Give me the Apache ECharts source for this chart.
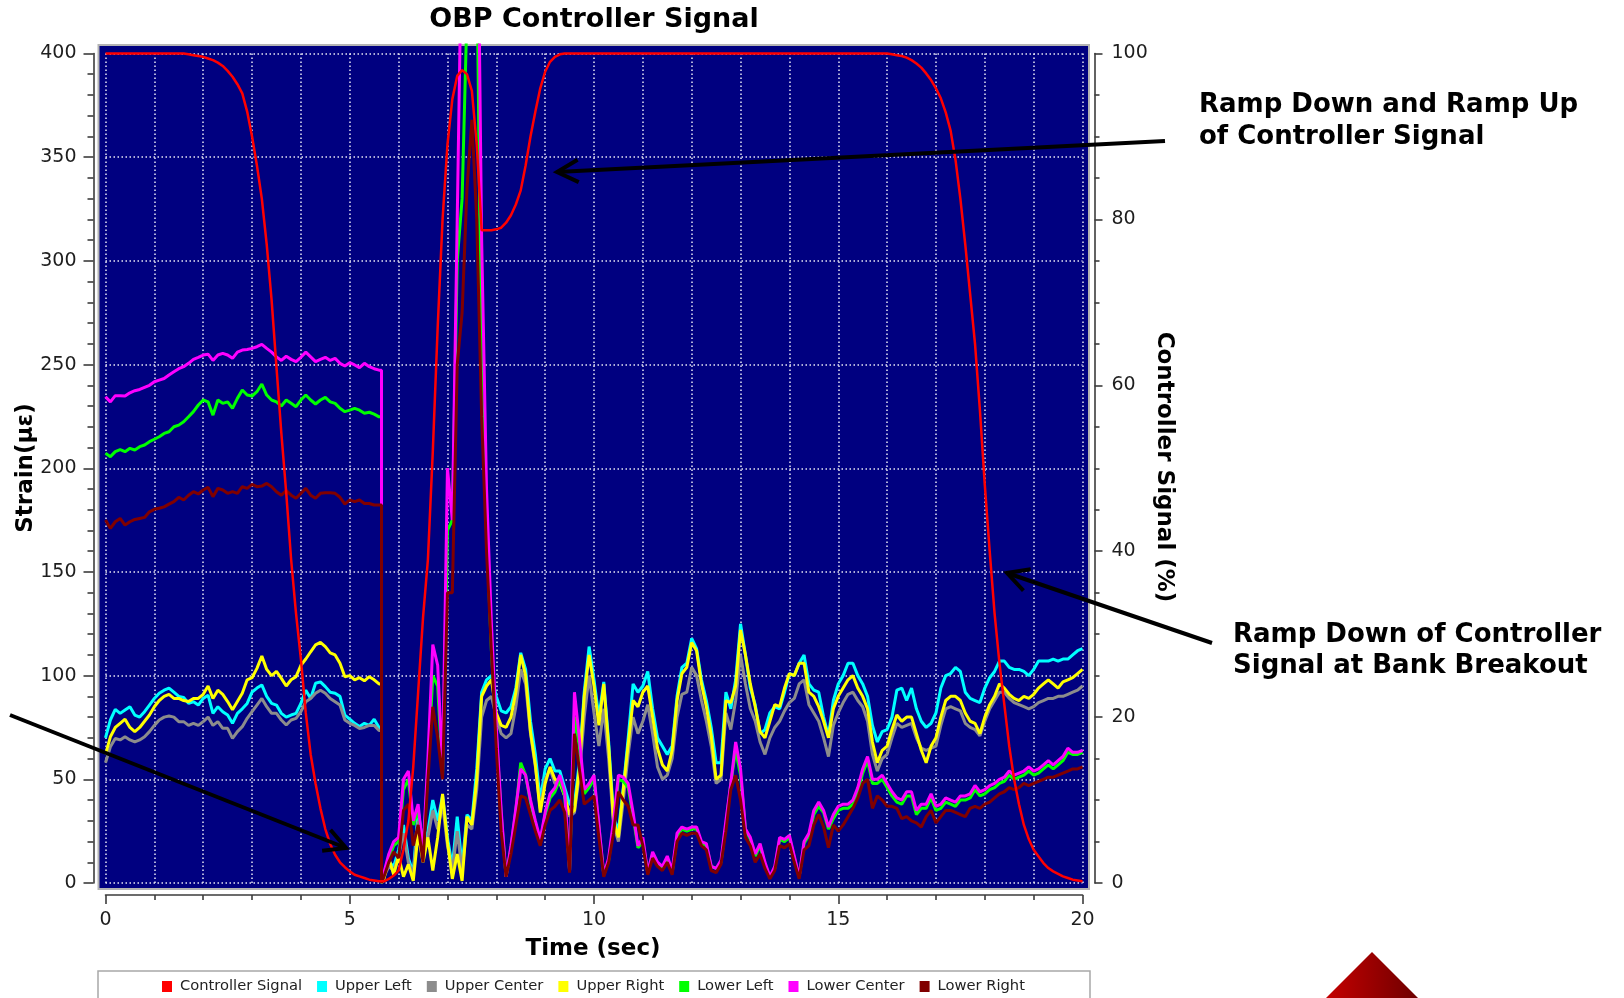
<!DOCTYPE html>
<html>
<head>
<meta charset="utf-8">
<title>OBP Controller Signal</title>
<script src="https://cdn.jsdelivr.net/npm/echarts@6/dist/echarts.min.js"></script>
<style>
  html, body { margin: 0; padding: 0; background: #ffffff; }
  #chart { width: 1624px; height: 998px; }
</style>
</head>
<body>
<div id="chart"></div>
<script>
// ---------------------------------------------------------------------------
// Recorded channels, sampled every 0.1 s. At CUT_TIME every strain channel
// drops to zero, so that instant appears twice (value before / after).
// ---------------------------------------------------------------------------
const CUT_TIME = 5.65;
const TIME = [];
for (let k = 0; k <= 56; k++) TIME.push(+(k / 10).toFixed(1));
TIME.push(CUT_TIME, CUT_TIME);
for (let k = 57; k <= 200; k++) TIME.push(+(k / 10).toFixed(1));

const X_TICKS = [0, 5, 10, 15, 20];
const STRAIN_TICKS = [0, 50, 100, 150, 200, 250, 300, 350, 400];
const SIGNAL_TICKS = [0, 20, 40, 60, 80, 100];

// Controller signal, %
const CONTROLLER_SIGNAL = [
  100, 100, 100, 100, 100, 100, 100, 100, 100, 100,
  100, 100, 100, 100, 100, 100, 100, 99.9, 99.8, 99.7,
  99.6, 99.4, 99.2, 98.9, 98.5, 97.9, 97.2, 96.3, 95.2, 93,
  90, 86.5, 82.5, 77, 70.3, 62.2, 54.2, 47, 39, 32.5,
  27, 20.5, 15.5, 12, 9, 6.5, 4.7, 3.4, 2.5, 1.9,
  1.4, 1.0, 0.8, 0.6, 0.4, 0.3, 0.2,
  0.2, 0.2,
  0.2, 0.5, 0.9,
  1.5, 4, 7.5, 14, 23, 32, 39, 52, 67, 80,
  89, 94.5, 97.3, 98, 97.5, 95.5, 89, 78.7, 78.7, 78.7,
  78.8, 79, 79.6, 80.5, 81.8, 83.5, 86.5, 90, 93, 95.8,
  97.8, 99, 99.6, 99.9, 100, 100, 100, 100, 100, 100,
  100, 100, 100, 100, 100, 100, 100, 100, 100, 100,
  100, 100, 100, 100, 100, 100, 100, 100, 100, 100,
  100, 100, 100, 100, 100, 100, 100, 100, 100, 100,
  100, 100, 100, 100, 100, 100, 100, 100, 100, 100,
  100, 100, 100, 100, 100, 100, 100, 100, 100, 100,
  100, 100, 100, 100, 100, 100, 100, 100, 100, 100,
  100, 99.9, 99.8, 99.7, 99.5, 99.2, 98.8, 98.3, 97.6, 96.8,
  95.8, 94.6, 92.9, 90.7, 87.2, 82.5, 77, 71, 65, 57,
  48, 40, 32.5, 26.5, 21.5, 16.5, 12.5, 9.5, 7, 5.3,
  4, 3.2, 2.4, 1.8, 1.4, 1.1, 0.8, 0.6, 0.4, 0.3,
  0.2
];

// Strain channels, microstrain
const UPPER_LEFT = [
  70, 78.6, 83.7, 81.8, 83.4, 85, 81, 80, 82.6, 85.8,
  89, 91.5, 93, 94, 92, 90, 89.5, 86.6, 87.4, 85.8,
  89, 90.6, 81.8, 85, 82.6, 81, 77, 81.8, 84, 86.6,
  92, 94, 95.5, 90, 86.6, 85.8, 81.8, 80, 81, 81.8,
  86.6, 93, 89, 96.3, 97, 94.7, 92, 91.5, 90, 81,
  79, 77, 75.5, 77, 76, 79, 75,
  75, 0,
  4, 10, 8,
  16, 28, 12, 5, 35, 18, 25, 40, 30, 42,
  22, 8, 32, 8, 33, 30, 55, 92, 98, 100,
  90, 83, 82, 85, 94, 111, 103, 78, 62, 40,
  55, 60, 54, 54, 46, 38, 38, 58, 92, 114,
  98, 80, 97, 68, 32, 25, 46, 70, 96, 92,
  95, 102, 84, 70, 66, 62, 66, 90, 104, 106,
  118, 113, 98, 88, 75, 58, 58, 92, 84, 98,
  125, 110, 94, 86, 72, 74, 82, 85, 84, 92,
  101, 100, 106, 110, 96, 93, 92, 80, 71, 88,
  96, 100, 106, 106, 100, 96, 90, 76, 68, 73,
  74, 80, 93, 94, 88, 94, 84, 78, 75, 77,
  82, 94, 100, 101, 104, 102, 92, 89, 88, 87,
  94, 99, 102, 107, 107, 104, 103, 103, 102, 100,
  103, 107, 107, 107, 108, 107, 108, 108, 110, 112,
  113
];

const UPPER_CENTER = [
  58, 65.7, 69.7, 69, 70.5, 69, 68, 69, 70.5, 73,
  76, 78.6, 80, 80.5, 80, 77.8, 77.8, 76, 77, 76,
  77.8, 80, 76, 77.8, 74.6, 74.6, 69.7, 73, 75.4, 79.4,
  82.6, 85.8, 89, 85, 81.8, 81.8, 78.6, 76.2, 78.6, 79.4,
  82.6, 87.4, 89, 91.5, 93, 91.5, 89, 87.4, 85.8, 78.6,
  77, 76, 74.5, 75, 76, 76, 73.5,
  73.5, 0,
  3, 8, 6,
  13, 24, 10, 4, 30, 15, 22, 35, 26, 38,
  18, 6, 25, 6, 28, 26, 45, 80, 88, 90,
  80, 72, 70, 72, 85, 103, 96, 72, 56, 36,
  50, 55, 48, 48, 42, 32, 34, 52, 80, 100,
  82, 66, 84, 60, 28, 20, 40, 62, 80, 72,
  78, 86, 72, 56, 50, 52, 60, 80, 91, 92,
  104, 100, 88, 78, 66, 48, 50, 82, 74, 88,
  110, 96, 84, 78, 68, 62, 70, 75, 78, 83,
  87, 89, 96, 98, 86, 82, 78, 70, 61, 76,
  82, 87, 91, 92, 88, 85, 78, 62, 54, 60,
  62, 70, 77, 75, 76, 77, 70, 65, 64, 65,
  66, 76, 84, 85, 84, 83, 77, 75, 74, 71,
  78, 84, 88, 92, 92, 89, 87, 86, 85, 84,
  85, 87, 88, 89, 89, 90, 90, 91, 92, 93,
  95
];

const UPPER_RIGHT = [
  62, 70.5, 75, 77, 79, 75, 73, 75, 78, 81,
  85, 88, 90, 91, 89, 89, 88, 87.5, 89, 89,
  91, 95, 89, 93, 91, 87.5, 83.5, 87.5, 91.5, 98,
  99, 103.5, 109.5, 103, 100, 102, 98.7, 95, 98, 99.5,
  105, 108, 111.5, 114.8, 116, 114, 111, 110, 106, 99.5,
  100, 98, 99, 97.5, 99.5, 98, 96,
  96, 0,
  2, 12, 4,
  13, 3, 9, 1, 24, 10, 22, 6, 22, 43,
  20, 2, 14, 1, 32, 28, 50, 90, 95, 98,
  82, 76, 75, 80, 92, 110, 100, 73, 57, 34,
  48, 56, 50, 49, 42, 33, 35, 55, 90, 110,
  95, 76, 96, 66, 30, 22, 45, 67, 88, 85,
  92, 95, 80, 65, 57, 54, 64, 88, 101, 104,
  116, 112, 96, 85, 71, 50, 52, 88, 87, 95,
  122, 110, 96, 85, 73, 70, 78, 86, 85, 94,
  101, 100, 106, 106, 92, 90, 85, 78, 70, 84,
  90, 94, 98, 100, 94, 90, 84, 68, 58, 64,
  66, 74, 81, 78, 80, 80, 72, 64, 58, 66,
  70, 80, 88, 90, 90, 88, 82, 78, 77, 72,
  80, 86, 90, 96, 94, 91, 89, 88, 90, 89,
  91, 94, 96, 98, 96, 94, 97, 98, 99, 101,
  103
];

const LOWER_LEFT = [
  207.2, 205.6, 208, 209, 208, 209.6, 208.8, 210.4, 211.2, 212.8,
  214, 215.2, 216.8, 217.6, 220, 220.8, 222.4, 224.8, 227.3, 230.5,
  232.9, 232, 225.6, 232.9, 231.3, 232, 228.9, 233.7, 237.7, 235.3,
  234.8, 236.9, 240.6, 235.3, 232.9, 232, 230, 232.9, 231.3, 229.7,
  232.9, 235.3, 232.9, 231, 232.9, 234.2, 232, 231.3, 228.9, 227.3,
  228, 228.9, 228, 226.5, 227, 226.1, 224.8,
  224.8, 0,
  4, 12, 18,
  20, 45, 50, 28, 35, 13, 55, 100, 95, 52,
  170, 175, 300, 330, 420, 520, 450, 240, 170, 112,
  72, 33, 3, 17, 35, 58, 52, 39, 29, 20,
  33, 41, 44, 50, 42, 6, 80, 66, 43, 46,
  50, 27, 4, 11, 28, 50, 49, 46, 32, 17,
  20, 5, 14, 9, 7, 12, 5, 22, 26, 25,
  26, 26, 19, 18, 8, 7, 10, 28, 48, 64,
  52, 26, 21, 13, 18, 9, 3, 7, 21, 20,
  22, 12, 3, 19, 23, 33, 37, 34, 26, 31,
  35, 36, 36, 38, 44, 53, 59, 48, 48, 50,
  46, 42, 39, 38, 42, 42, 33, 36, 36, 41,
  35, 36, 39, 38, 37, 40, 40, 41, 45, 42,
  43, 45, 46, 48, 49, 52, 50, 51, 52, 54,
  52, 53, 55, 57, 55, 57, 59, 63, 62, 62,
  63
];

const LOWER_CENTER = [
  234.5, 232, 235, 235, 234.8, 236.4, 237.4, 238, 239, 240,
  241.7, 242.5, 243.3, 245, 246.5, 248, 249, 250.6, 252.5, 253.5,
  254.6, 255, 252, 254.6, 255.4, 254.6, 253, 256, 257, 257.3,
  257.8, 258.6, 259.7, 257.8, 256, 253.7, 252, 254, 252.5, 251.4,
  253.5, 256, 253.7, 251.4, 252.5, 253.5, 252, 253, 250.6, 249.3,
  250.9, 249.8, 248.5, 250.6, 249, 248, 247.3,
  247.3, 0,
  5, 14, 20,
  22, 50, 54, 30, 38, 15, 60, 115, 105, 55,
  200, 175, 320, 470, 560, 560, 520, 310, 190, 125,
  75, 35, 3, 18, 36, 55, 52, 40, 30, 21,
  34, 43, 46, 52, 44, 6, 92, 70, 45, 48,
  52, 28, 4, 12, 30, 52, 51, 48, 34, 18,
  22, 5, 15, 10, 8, 13, 6, 24, 27, 26,
  27, 27, 20, 19, 8, 7, 11, 30, 48, 68,
  55, 26, 22, 14, 19, 10, 3, 8, 22, 21,
  23, 13, 3, 20, 24, 35, 39, 35, 27, 33,
  37, 38, 38, 40, 46, 55, 61, 50, 50, 52,
  48, 44, 41, 40, 44, 44, 35, 38, 38, 43,
  37, 38, 41, 40, 39, 42, 42, 43, 47, 44,
  45, 47, 48, 50, 51, 54, 52, 53, 54, 56,
  54, 55, 57, 59, 57, 59, 61, 65, 63, 63,
  64
];

const LOWER_RIGHT = [
  175, 171, 174.2, 175.8, 172.6, 174.2, 175.3, 175.8, 176.3, 179,
  180.2, 180.7, 181.4, 182.7, 183.9, 186, 184.7, 187, 188.7, 187.6,
  189.5, 190.8, 186.3, 190.3, 189.5, 187.9, 188.7, 187.9, 191.1, 190.3,
  192.2, 191.1, 191.4, 192.7, 191.1, 188.7, 187, 189.2, 187, 185.5,
  187.9, 190.3, 187, 185.5, 187.9, 188.2, 188.2, 187.9, 186, 182.7,
  184.7, 183.9, 184.7, 183, 183, 182.3, 182.3,
  182.3, 0,
  3, 10, 15,
  12, 35, 38, 18, 28, 10, 50, 85, 70, 50,
  140, 140, 250, 275, 335, 368, 320, 225, 160, 112,
  65, 25, 3, 14, 28, 42, 41, 33, 25, 18,
  28, 35, 37, 40, 34, 5, 72, 55, 38, 40,
  42, 22, 3, 10, 24, 44, 40, 37, 28, 28,
  18, 4, 12, 8, 6, 10, 4, 20, 24, 23,
  24, 24, 18, 16, 6, 5, 9, 25, 45, 52,
  40, 22, 18, 10, 14, 7, 2, 6, 18, 17,
  19, 10, 2, 16, 18, 28, 33, 27, 17, 28,
  25, 28, 32, 36, 41, 48, 50, 36, 42, 40,
  37, 37, 36, 31, 32, 30, 29, 27, 32, 35,
  29, 32, 35, 35, 34, 33, 32, 36, 37, 36,
  38, 39, 41, 43, 44, 46, 45, 46, 48, 47,
  48, 49, 50, 51, 51, 52, 53, 54, 55, 55,
  56
];

const STRAIN_CHANNELS = [
  { name: 'Upper Left',   color: '#00ffff', values: UPPER_LEFT },
  { name: 'Upper Center', color: '#8c8c8c', values: UPPER_CENTER },
  { name: 'Upper Right',  color: '#ffff00', values: UPPER_RIGHT },
  { name: 'Lower Left',   color: '#00ff00', values: LOWER_LEFT },
  { name: 'Lower Center', color: '#ff00ff', values: LOWER_CENTER },
  { name: 'Lower Right',  color: '#800000', values: LOWER_RIGHT }
];
const CONTROLLER_NAME = 'Controller Signal';
const CONTROLLER_COLOR = '#ff0000';

// ---------------------------------------------------------------------------
// Layout
// ---------------------------------------------------------------------------
const FONT = "'DejaVu Sans', Verdana, sans-serif";
const AXIS_COLOR = '#3c3c3c';
const LABEL_COLOR = '#1e1e1e';
const GRID_DOTS = { color: '#e8e8f4', type: [1.5, 2.5], width: 1.5 };

// navy panel, and the exact 0..20 s / 0..400 window inside it
const PANEL  = { left: 98.5, top: 45, right: 1089, bottom: 889 };
const WINDOW = { left: 105.5, top: 53.5, right: 1082.5, bottom: 883 };

const T_RANGE = [X_TICKS[0], X_TICKS[X_TICKS.length - 1]];
const S_RANGE = [STRAIN_TICKS[0], STRAIN_TICKS[STRAIN_TICKS.length - 1]];
const C_RANGE = [SIGNAL_TICKS[0], SIGNAL_TICKS[SIGNAL_TICKS.length - 1]];

// ranges for the panel so that its scale coincides with the window's
function horizontalExtent(range) {
  const k = (range[1] - range[0]) / (WINDOW.right - WINDOW.left);
  return [range[0] - (WINDOW.left - PANEL.left) * k, range[1] + (PANEL.right - WINDOW.right) * k];
}
function verticalExtent(range) {
  const k = (range[1] - range[0]) / (WINDOW.bottom - WINDOW.top);
  return [range[0] - (PANEL.bottom - WINDOW.bottom) * k, range[1] + (WINDOW.top - PANEL.top) * k];
}
const PANEL_T = horizontalExtent(T_RANGE);
const PANEL_S = verticalExtent(S_RANGE);
const PANEL_C = verticalExtent(C_RANGE);

function pairs(values) {
  if (values.length !== TIME.length) console.error('length mismatch', values.length, TIME.length);
  return TIME.map((t, i) => [t, values[i]]);
}

const tickLabel = { fontFamily: FONT, fontSize: 19, color: LABEL_COLOR, margin: 17 };
const axisLineStyle = { color: AXIS_COLOR, width: 1.6 };

const series = STRAIN_CHANNELS.map(ch => ({
  name: ch.name,
  type: 'line',
  xAxisIndex: 0,
  yAxisIndex: 0,
  data: pairs(ch.values),
  showSymbol: false,
  symbol: 'none',
  clip: true,
  z: 2,
  lineStyle: { color: ch.color, width: 3 },
  itemStyle: { color: ch.color }
}));
series.push({
  name: CONTROLLER_NAME,
  type: 'line',
  xAxisIndex: 0,
  yAxisIndex: 1,
  data: pairs(CONTROLLER_SIGNAL),
  showSymbol: false,
  symbol: 'none',
  clip: true,
  z: 3,
  lineStyle: { color: CONTROLLER_COLOR, width: 2.5 },
  itemStyle: { color: CONTROLLER_COLOR }
});

// ---------------------------------------------------------------------------
// Annotations
// ---------------------------------------------------------------------------
const ARROWS = [
  { tail: [1165, 141], tip: [557, 172] },
  { tail: [1212, 643], tip: [1007, 573] },
  { tail: [10, 715],   tip: [346, 848] }
];
function arrow(a) {
  const dx = a.tip[0] - a.tail[0], dy = a.tip[1] - a.tail[1];
  const len = Math.hypot(dx, dy), ux = dx / len, uy = dy / len;
  const HEAD = 24, ANG = 28 * Math.PI / 180;
  const arm = s => {
    const c = Math.cos(s * ANG), sn = Math.sin(s * ANG);
    const rx = ux * c - uy * sn, ry = ux * sn + uy * c;
    return [a.tip[0] - HEAD * rx, a.tip[1] - HEAD * ry];
  };
  return [
    { type: 'line', z: 100, shape: { x1: a.tail[0], y1: a.tail[1], x2: a.tip[0], y2: a.tip[1] },
      style: { stroke: '#000', lineWidth: 4 } },
    { type: 'polyline', z: 100, shape: { points: [arm(1), a.tip, arm(-1)] },
      style: { stroke: '#000', lineWidth: 4, fill: null, lineJoin: 'miter' } }
  ];
}
function label(text, x, y, size, opts) {
  opts = opts || {};
  const align = opts.align || 'center';
  return {
    type: 'text', x: x, y: y, rotation: opts.rotation || 0, z: 100,
    style: {
      text: text, fill: '#000',
      font: 'bold ' + size + 'px ' + FONT,
      align: align, textAlign: align,
      verticalAlign: 'middle', textVerticalAlign: 'middle'
    }
  };
}

const graphics = [
  // legend frame
  { type: 'rect', z: 0, shape: { x: 98, y: 971, width: 992, height: 40 },
    style: { fill: '#ffffff', stroke: '#a8a8a8', lineWidth: 1.5 } },
  // chart title and axis names
  label('OBP Controller Signal', 594, 20, 27),
  label('Strain(\u03bc\u03b5)', 26, 468, 23, { rotation: Math.PI / 2 }),
  label('Controller Signal (%)', 1164, 467, 23, { rotation: -Math.PI / 2 }),
  label('Time (sec)', 593, 949, 23),
  // notes
  label('Ramp Down and Ramp Up', 1199, 105.5, 26, { align: 'left' }),
  label('of Controller Signal', 1199, 137, 26, { align: 'left' }),
  label('Ramp Down of Controller', 1233, 635.5, 26, { align: 'left' }),
  label('Signal at Bank Breakout', 1233, 666.5, 26, { align: 'left' }),
  // corner emblem
  { type: 'polygon', z: 0, shape: { points: [[1372, 952], [1422, 1002], [1322, 1002]] },
    style: { fill: new echarts.graphic.LinearGradient(0, 0, 1, 0, [
      { offset: 0, color: '#c80000' }, { offset: 1, color: '#6a0000' }]) } }
].concat(...ARROWS.map(arrow));

const option = {
  animation: false,
  backgroundColor: '#ffffff',
  textStyle: { fontFamily: FONT },
  grid: [
    { left: PANEL.left, top: PANEL.top, width: PANEL.right - PANEL.left, height: PANEL.bottom - PANEL.top,
      show: true, backgroundColor: '#000080', borderColor: '#b4b4b4', borderWidth: 2, containLabel: false },
    { left: WINDOW.left, top: WINDOW.top, width: WINDOW.right - WINDOW.left, height: WINDOW.bottom - WINDOW.top,
      show: false, containLabel: false }
  ],
  xAxis: [
    { gridIndex: 0, type: 'value', min: PANEL_T[0], max: PANEL_T[1], show: false },
    { gridIndex: 1, type: 'value', min: T_RANGE[0], max: T_RANGE[1], interval: X_TICKS[1] - X_TICKS[0],
      position: 'bottom', offset: 12, z: 1,
      axisLine: { show: true, onZero: false, lineStyle: axisLineStyle },
      axisTick: { show: true, length: 9, lineStyle: axisLineStyle },
      minorTick: { show: true, splitNumber: 5, length: 5, lineStyle: axisLineStyle },
      splitLine: { show: true, lineStyle: GRID_DOTS },
      minorSplitLine: { show: true, lineStyle: GRID_DOTS },
      axisLabel: Object.assign({}, tickLabel, { margin: 16 }) }
  ],
  yAxis: [
    { gridIndex: 0, type: 'value', min: PANEL_S[0], max: PANEL_S[1], show: false, position: 'left' },
    { gridIndex: 0, type: 'value', min: PANEL_C[0], max: PANEL_C[1], show: false, position: 'right' },
    { gridIndex: 1, type: 'value', min: S_RANGE[0], max: S_RANGE[1], interval: STRAIN_TICKS[1] - STRAIN_TICKS[0],
      position: 'left', offset: 12, z: 1,
      axisLine: { show: true, onZero: false, lineStyle: axisLineStyle },
      axisTick: { show: true, length: 10, lineStyle: axisLineStyle },
      minorTick: { show: true, splitNumber: 5, length: 6, lineStyle: axisLineStyle },
      splitLine: { show: true, lineStyle: GRID_DOTS },
      axisLabel: tickLabel },
    { gridIndex: 1, type: 'value', min: C_RANGE[0], max: C_RANGE[1], interval: SIGNAL_TICKS[1] - SIGNAL_TICKS[0],
      position: 'right', offset: 12, z: 1,
      axisLine: { show: true, onZero: false, lineStyle: axisLineStyle },
      axisTick: { show: true, length: 8, lineStyle: axisLineStyle },
      minorTick: { show: true, splitNumber: 4, length: 5, lineStyle: axisLineStyle },
      splitLine: { show: false },
      axisLabel: tickLabel }
  ],
  legend: {
    data: [CONTROLLER_NAME].concat(STRAIN_CHANNELS.map(c => c.name)),
    left: 162, top: 979, padding: 0, z: 10,
    icon: 'rect', itemWidth: 10, itemHeight: 11, itemGap: 15,
    selectedMode: false,
    textStyle: { fontFamily: FONT, fontSize: 14.7, color: '#222222', padding: [0, 0, 0, 3] }
  },
  graphic: { elements: graphics },
  series: series
};

const chart = echarts.init(document.getElementById('chart'), null, { renderer: 'canvas' });
chart.setOption(option);
</script>
</body>
</html>
